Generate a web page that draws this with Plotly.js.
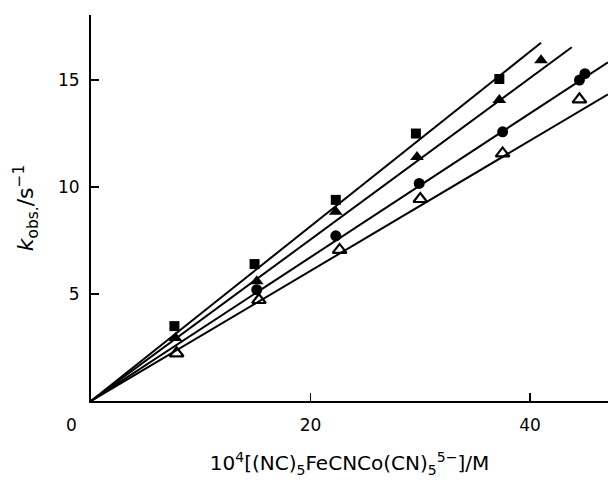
<!DOCTYPE html>
<html>
<head>
<meta charset="utf-8">
<script src="https://cdn.plot.ly/plotly-3.0.1.min.js"></script>
<style>html,body{margin:0;padding:0;background:#fff;}#chart{width:608px;height:485px;}</style>
</head>
<body>
<div id="chart"></div>
<script>
// Filled squares
const sqX = [7.6, 14.9, 22.3, 29.6, 37.2];
const sqY = [3.5, 6.4, 9.4, 12.5, 15.05];
// Filled triangles
const ftX = [7.7, 15.1, 22.3, 29.7, 37.2, 41.0];
const ftY = [2.95, 5.6, 8.85, 11.4, 14.07, 15.93];
// Filled circles
const fcX = [15.1, 22.3, 29.9, 37.5, 44.5, 45.0];
const fcY = [5.2, 7.72, 10.17, 12.58, 15.0, 15.3];
// Open triangles
const otX = [7.8, 15.3, 22.65, 30.0, 37.5, 44.5];
const otY = [2.23, 4.72, 7.06, 9.44, 11.57, 14.1];
// Fitted lines (start and end points)
const fitSqX = [0, 41.0], fitSqY = [0, 16.74];
const fitFtX = [0, 43.8], fitFtY = [0, 16.53];
const fitFcX = [0, 47.1], fitFcY = [0, 15.83];
const fitOtX = [0, 47.1], fitOtY = [0, 14.33];
// Tick labels
const xTicks = [20, 40];
const yTicks = [5, 10, 15];

const lineStyle = {color: '#000', width: 2};
const traces = [
  {x: fitSqX, y: fitSqY, mode: 'lines', line: lineStyle, hoverinfo: 'skip'},
  {x: fitFtX, y: fitFtY, mode: 'lines', line: lineStyle, hoverinfo: 'skip'},
  {x: fitFcX, y: fitFcY, mode: 'lines', line: lineStyle, hoverinfo: 'skip'},
  {x: fitOtX, y: fitOtY, mode: 'lines', line: lineStyle, hoverinfo: 'skip'},
  {x: sqX, y: sqY, mode: 'markers', marker: {symbol: 'square', size: 10, color: '#000'}},
  {x: ftX, y: ftY, mode: 'markers', marker: {symbol: 'triangle-up', size: 12, color: '#000'}},
  {x: fcX, y: fcY, mode: 'markers', marker: {symbol: 'circle', size: 11, color: '#000'}},
  {x: otX, y: otY, mode: 'markers', marker: {symbol: 'triangle-up-open', size: 12, color: '#000', line: {width: 2.2, color: '#000'}}}
];

const font = {family: 'DejaVu Sans, sans-serif', size: 17, color: '#000'};
const layout = {
  width: 608, height: 485,
  margin: {l: 91, r: 0, t: 15, b: 84},
  paper_bgcolor: '#fff', plot_bgcolor: '#fff',
  showlegend: false,
  font: font,
  xaxis: {
    range: [0, 47.1], showgrid: false, zeroline: false,
    showline: true, linecolor: '#000', linewidth: 2,
    ticks: 'inside', ticklen: 8, tickwidth: 1.5, tickcolor: '#000',
    tickvals: xTicks, ticktext: xTicks.map(String),
    ticklabelstandoff: 8,
    tickfont: {family: 'DejaVu Sans, sans-serif', size: 17},
    title: {text: '10<sup>4</sup>[(NC)<sub>5</sub>FeCNCo(CN)<sub>5</sub><sup>5\u2212</sup>]/M', font: {family: 'DejaVu Sans, sans-serif', size: 20}, standoff: 22}
  },
  yaxis: {
    range: [0, 18.04], showgrid: false, zeroline: false,
    showline: true, linecolor: '#000', linewidth: 2,
    ticks: 'inside', ticklen: 8, tickwidth: 1.5, tickcolor: '#000',
    tickvals: yTicks, ticktext: yTicks.map(String),
    ticklabelstandoff: 6,
    tickfont: {family: 'DejaVu Sans, sans-serif', size: 17},
    title: {text: '<i>k</i><sub>obs.</sub>/s<sup>\u22121</sup>', font: {family: 'DejaVu Sans, sans-serif', size: 22}, standoff: 18}
  },
  annotations: [
    {x: 0, y: 0, xref: 'x', yref: 'y', text: '0', showarrow: false,
     xanchor: 'center', yanchor: 'top', xshift: -20, yshift: -12,
     font: {family: 'DejaVu Sans, sans-serif', size: 17, color: '#000'}}
  ]
};

Plotly.newPlot('chart', traces, layout, {displayModeBar: false, staticPlot: true});
</script>
</body>
</html>
